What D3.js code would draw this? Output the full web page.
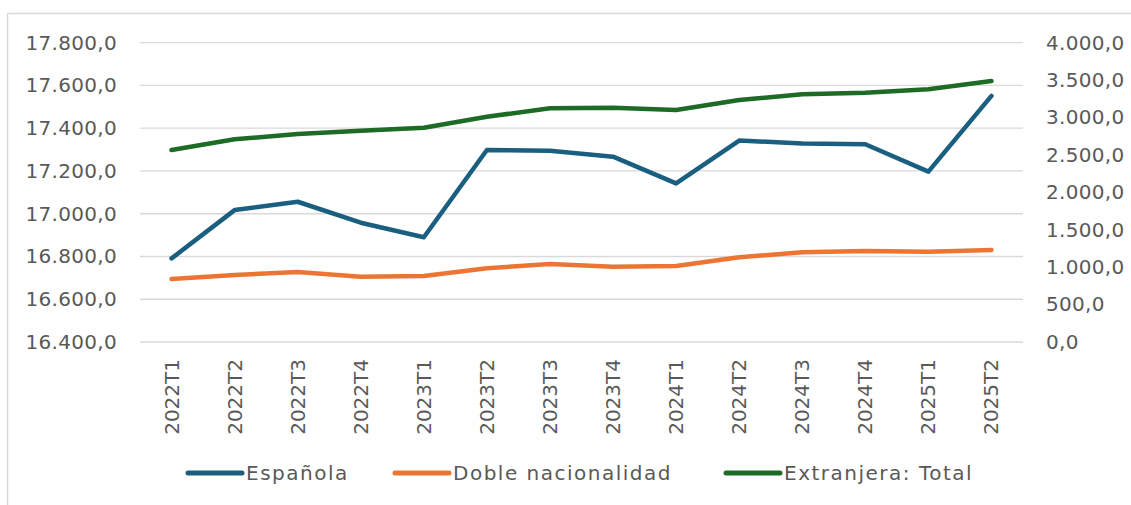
<!DOCTYPE html>
<html>
<head>
<meta charset="utf-8">
<script src="https://cdn.jsdelivr.net/npm/d3@7"></script>
<style>
  body { margin: 0; background: #fff; }
  text { font-family: "DejaVu Sans", sans-serif; fill: #595959; }
</style>
</head>
<body>
<script>
var periodos = ["2022T1","2022T2","2022T3","2022T4","2023T1","2023T2","2023T3","2023T4",
                "2024T1","2024T2","2024T3","2024T4","2025T1","2025T2"]
var espanola = [16791, 17017, 17056, 16958, 16890, 17298, 17295, 17267, 17142, 17342, 17329, 17325, 17197, 17551]
var doble = [842, 895, 936, 873, 882, 985, 1042, 1006, 1016, 1132, 1199, 1216, 1207, 1230]
var extranjera = [2566, 2709, 2780, 2824, 2864, 3011, 3123, 3131, 3101, 3234, 3310, 3332, 3377, 3488]
var ticksIzq = [16400, 16600, 16800, 17000, 17200, 17400, 17600, 17800]
var ticksDer = [0, 500, 1000, 1500, 2000, 2500, 3000, 3500, 4000]

var width = 1131, height = 505
var plotLeft = 140, plotRight = 1023, plotTop = 42.7, plotBottom = 342
var fontSize = "20px"

var svg = d3.select("body").append("svg")
  .attr("width", width)
  .attr("height", height)

// chart frame
svg.append("rect")
  .attr("x", 7.5).attr("y", 13.5)
  .attr("width", 1140).attr("height", 520)
  .attr("fill", "none")
  .attr("stroke", "#d9d9d9")
  .attr("stroke-width", 1.5)

var x = d3.scalePoint().domain(periodos).range([plotLeft, plotRight]).padding(0.5)
var yL = d3.scaleLinear().domain([16400, 17800]).range([plotBottom, plotTop])
var yR = d3.scaleLinear().domain([0, 4000]).range([plotBottom, plotTop])

var fmt = function(v) {
  var s = d3.format(",.1f")(v)
  return s.replace(/,/g, "#").replace(".", ",").replace(/#/g, ".")
}

// gridlines
svg.append("g").selectAll("line").data(ticksIzq).enter().append("line")
  .attr("x1", plotLeft).attr("x2", plotRight)
  .attr("y1", function(d) { return yL(d) }).attr("y2", function(d) { return yL(d) })
  .attr("stroke", "#d9d9d9").attr("stroke-width", 1.3)

var axL = svg.append("g").attr("transform", "translate(" + 117 + ",0)")
  .call(d3.axisLeft(yL).tickValues(ticksIzq).tickFormat(fmt).tickSize(0).tickPadding(0))
axL.select(".domain").remove()
axL.selectAll("text").style("font-size", fontSize).attr("fill", "#595959")
  .style("font-family", "DejaVu Sans").style("letter-spacing", "0.3px")

var axR = svg.append("g").attr("transform", "translate(" + 1046 + ",0)")
  .call(d3.axisRight(yR).tickValues(ticksDer).tickFormat(fmt).tickSize(0).tickPadding(0))
axR.select(".domain").remove()
axR.selectAll("text").style("font-size", fontSize).attr("fill", "#595959")
  .style("font-family", "DejaVu Sans").style("letter-spacing", "0.3px")

// category labels, rotated
svg.append("g").selectAll("text").data(periodos).enter().append("text")
  .attr("transform", function(d) { return "translate(" + (x(d) + 7) + ",359) rotate(-90)" })
  .attr("text-anchor", "end")
  .style("font-size", fontSize)
  .text(function(d) { return d })

var series = [
  { name: "Española", values: espanola, scale: yL, color: "#1a5f80" },
  { name: "Doble nacionalidad", values: doble, scale: yR, color: "#ed7533" },
  { name: "Extranjera: Total", values: extranjera, scale: yR, color: "#1d6b25" }
]

series.forEach(function(s) {
  var line = d3.line()
    .x(function(d, i) { return x(periodos[i]) })
    .y(function(d) { return s.scale(d) })
  svg.append("path")
    .attr("d", line(s.values))
    .attr("fill", "none")
    .attr("stroke", s.color)
    .attr("stroke-width", 4.5)
    .attr("stroke-linecap", "round")
    .attr("stroke-linejoin", "round")
})

// legend
var legendX = [188, 395, 726]
var lg = svg.append("g").selectAll("g").data(series).enter().append("g")
  .attr("transform", function(d, i) { return "translate(" + legendX[i] + ",473)" })
lg.append("line")
  .attr("x1", 0).attr("x2", 54)
  .attr("stroke", function(d) { return d.color })
  .attr("stroke-width", 5)
  .attr("stroke-linecap", "round")
lg.append("text")
  .attr("x", 58).attr("dy", "0.35em")
  .style("font-size", fontSize)
  .style("letter-spacing", "1.5px")
  .text(function(d) { return d.name })
</script>
</body>
</html>
